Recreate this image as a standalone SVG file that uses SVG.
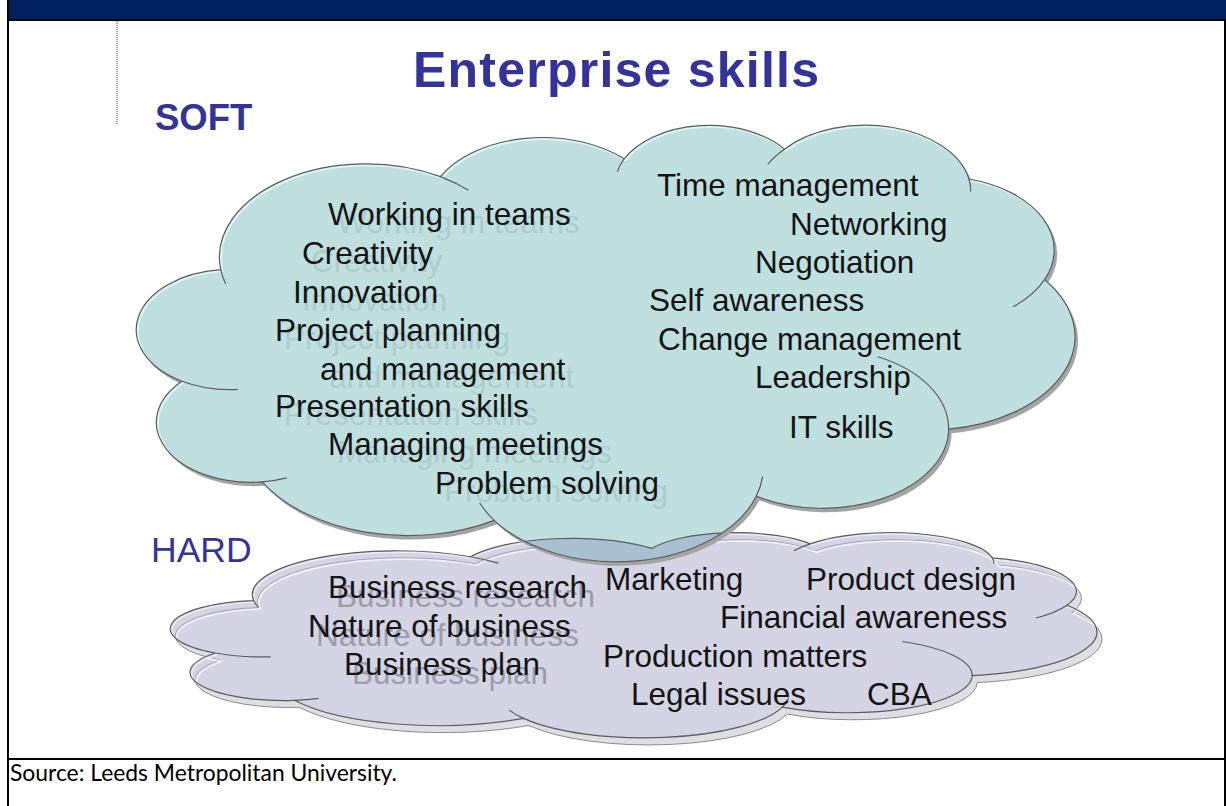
<svg xmlns="http://www.w3.org/2000/svg" width="1226" height="806" viewBox="0 0 1226 806">
<style>
.t{font-family:"Liberation Sans",Arial,sans-serif;font-size:31.5px;fill:#141414}
.ss{fill:#aecdce}
.hs{fill:#9c9cad}
.head{font-family:"Liberation Sans",Arial,sans-serif;fill:#333399}
.edge{fill:none;stroke:#5c5c5c;stroke-width:1.2}
.frame{stroke:#000;stroke-width:2;fill:none}
</style>
<defs>
<path id="soft" d="M220.77 269.70 A146.78 93.18 0 0 1 440.30 176.64 A115.92 73.68 0 0 1 624.11 158.80 A94.88 60.28 0 0 1 784.45 149.15 A105.57 66.87 0 0 1 969.01 179.01 A115.92 73.74 0 0 1 1044.52 279.67 A147.26 93.48 0 0 1 948.58 429.15 A125.74 79.76 0 0 1 756.24 496.17 A146.76 93.43 0 0 1 494.17 520.33 A167.80 106.90 0 0 1 262.13 481.87 A94.77 60.00 0 0 1 181.91 381.27 A94.44 60.28 0 0 1 220.77 269.70 Z"/>
<path id="softIn" d="M238.01 389.41 A94.44 60.28 0 0 1 181.91 381.27 M286.59 477.84 A94.77 60.00 0 0 1 262.13 481.87 M494.17 520.33 A146.76 93.43 0 0 1 479.65 502.70 M762.58 476.34 A146.76 93.43 0 0 1 756.24 496.17 M877.83 356.73 A125.74 79.76 0 0 1 948.58 429.15 M1044.52 279.67 A115.92 73.74 0 0 1 1013.07 306.81 M969.01 179.01 A105.57 66.87 0 0 1 970.68 191.82 M768.04 164.07 A105.57 66.87 0 0 1 784.45 149.15 M617.26 171.86 A94.88 60.28 0 0 1 624.11 158.80 M440.30 176.64 A146.78 93.18 0 0 1 468.56 190.31 M225.70 284.08 A146.78 93.18 0 0 1 220.77 269.70"/>
<path id="hard" d="M253.69 600.53 A144.91 43.83 0 0 1 470.41 556.76 A114.44 34.66 0 0 1 651.86 548.37 A93.66 28.35 0 0 1 810.16 543.83 A104.22 31.45 0 0 1 992.36 557.88 A114.44 34.69 0 0 1 1066.90 605.22 A145.38 43.97 0 0 1 972.19 675.53 A124.13 37.52 0 0 1 782.30 707.06 A144.88 43.95 0 0 1 523.58 718.42 A165.66 50.28 0 0 1 294.52 700.33 A93.56 28.22 0 0 1 215.32 653.01 A93.23 28.35 0 0 1 253.69 600.53 Z"/>
<path id="hardIn" d="M270.70 656.84 A93.23 28.35 0 0 1 215.32 653.01 M318.66 698.43 A93.56 28.22 0 0 1 294.52 700.33 M523.58 718.42 A144.88 43.95 0 0 1 509.25 710.13 M788.57 697.73 A144.88 43.95 0 0 1 782.30 707.06 M902.34 641.47 A124.13 37.52 0 0 1 972.19 675.53 M1066.90 605.22 A114.44 34.69 0 0 1 1035.85 617.99 M992.36 557.88 A104.22 31.45 0 0 1 994.01 563.90 M793.96 550.85 A104.22 31.45 0 0 1 810.16 543.83 M645.10 554.51 A93.66 28.35 0 0 1 651.86 548.37 M470.41 556.76 A144.91 43.83 0 0 1 498.31 563.19 M258.56 607.30 A144.91 43.83 0 0 1 253.69 600.53"/>
<clipPath id="softClip"><use href="#soft"/></clipPath>
<clipPath id="hardClip"><use href="#hard"/></clipPath>
</defs>

<rect x="0" y="0" width="1226" height="806" fill="#fff"/>

<g id="frame">
<rect x="8" y="0" width="1218" height="20" fill="#002060"/>
<line class="frame" x1="8" y1="20" x2="1226" y2="20"/>
<line class="frame" x1="8" y1="0" x2="8" y2="806"/>
<line class="frame" x1="1225" y1="20" x2="1225" y2="806"/>
<line class="frame" x1="8" y1="759" x2="1226" y2="759"/>
<line x1="117" y1="21" x2="117" y2="125" stroke="#3535c8" stroke-width="1" stroke-dasharray="1 1"/>
</g>

<g id="title">
<text class="head" x="413" y="87" font-size="50" font-weight="bold" textLength="406" lengthAdjust="spacing">Enterprise skills</text>
</g>
<g id="label-soft"><text class="head" x="155" y="130" font-size="36.5" font-weight="bold">SOFT</text></g>
<g id="label-hard"><text class="head" x="151" y="562" font-size="35.5">HARD</text></g>

<g id="hard-cloud">
<use href="#hard" transform="translate(5,7)" fill="#dedee4" stroke="#8c8c8c" stroke-width="1"/>
<use href="#hard" fill="#d4d4e4"/>
<g clip-path="url(#hardClip)">
<use href="#hard" transform="translate(5,7)" fill="none" stroke="#a4a4b2" stroke-width="1"/>
<use href="#hard" transform="translate(6.5,8.5)" fill="none" stroke="#f2f2f8" stroke-width="1.6"/>
<use href="#hard" transform="translate(1.5,1.5)" fill="none" stroke="#ececf4" stroke-width="1.5"/>
</g>
<use href="#hard" class="edge"/>
<use href="#hardIn" class="edge"/>
</g>

<g id="soft-cloud">
<use href="#soft" transform="translate(3,4)" fill="#a4a4a4"/>
<use href="#soft" fill="#c0e0e0"/>
<g clip-path="url(#softClip)">
<use href="#hard" fill="#a8c0cf"/>
<use href="#hard" class="edge"/>
<use href="#soft" transform="translate(1.5,1.5)" fill="none" stroke="#e2f5f5" stroke-width="1.8"/>
</g>
<use href="#soft" class="edge"/>
<use href="#softIn" class="edge"/>
</g>

<g id="connectors"/>

<g id="soft-left-text">
<g class="t ss">
<text x="337" y="233">Working in teams</text>
<text x="311" y="272">Creativity</text>
<text x="302" y="311">Innovation</text>
<text x="284" y="349">Project planning</text>
<text x="329" y="388">and management</text>
<text x="284" y="425">Presentation skills</text>
<text x="337" y="463">Managing meetings</text>
<text x="444" y="502">Problem solving</text>
</g>
<g class="t">
<text x="328" y="225">Working in teams</text>
<text x="302" y="264">Creativity</text>
<text x="293" y="303">Innovation</text>
<text x="275" y="341">Project planning</text>
<text x="320" y="380">and management</text>
<text x="275" y="417">Presentation skills</text>
<text x="328" y="455">Managing meetings</text>
<text x="435" y="494">Problem solving</text>
</g>
</g>

<g id="soft-right-text" class="t">
<text x="657" y="196">Time management</text>
<text x="790" y="235">Networking</text>
<text x="755" y="273">Negotiation</text>
<text x="649" y="311">Self awareness</text>
<text x="658" y="350">Change management</text>
<text x="755" y="388">Leadership</text>
<text x="789" y="438">IT skills</text>
</g>

<g id="hard-left-text">
<g class="t hs">
<text x="336" y="607">Business research</text>
<text x="316" y="646">Nature of business</text>
<text x="352" y="684">Business plan</text>
</g>
<g class="t">
<text x="328" y="598">Business research</text>
<text x="308" y="637">Nature of business</text>
<text x="344" y="675">Business plan</text>
</g>
</g>

<g id="hard-right-text" class="t">
<text x="605" y="590">Marketing</text>
<text x="806" y="590">Product design</text>
<text x="720" y="628">Financial awareness</text>
<text x="603" y="667">Production matters</text>
<text x="631" y="705">Legal issues</text>
<text x="867" y="705">CBA</text>
</g>

<g id="source">
<text x="10" y="781" font-family="Lato, 'Noto Sans', sans-serif" font-size="23" fill="#000" textLength="387" lengthAdjust="spacingAndGlyphs">Source: Leeds Metropolitan University.</text>
</g>
</svg>
